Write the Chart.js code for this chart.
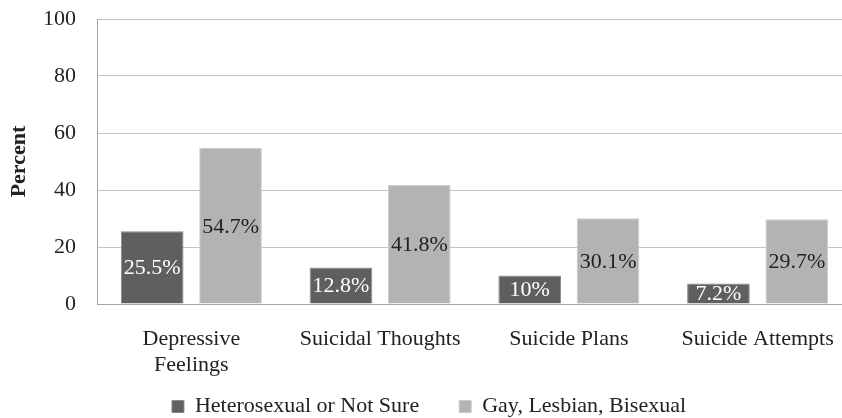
<!DOCTYPE html>
<html>
<head>
<meta charset="utf-8">
<script src="https://cdn.jsdelivr.net/npm/chart.js@4.4.1/dist/chart.umd.min.js"></script>
<style>
  html, body { margin: 0; padding: 0; background: #fff; overflow: hidden; }
  #wrap { width: 860px; height: 418px; }
</style>
</head>
<body>
<div id="wrap"><canvas id="chart"></canvas></div>
<script>
const categories = [['Depressive', 'Feelings'], 'Suicidal Thoughts', 'Suicide Plans', 'Suicide Attempts'];
const seriesNames = ['Heterosexual or Not Sure', 'Gay, Lesbian, Bisexual'];
const heteroValues = [25.5, 12.8, 10, 7.2];
const glbValues = [54.7, 41.8, 30.1, 29.7];
const yTicks = [0, 20, 40, 60, 80, 100];

const FONT = '"Liberation Serif", "Times New Roman", serif';

// writes the percentage in the middle of each bar
const barLabels = {
  id: 'barLabels',
  afterDatasetsDraw(chart) {
    const ctx = chart.ctx;
    ctx.save();
    ctx.font = '22px ' + FONT;
    ctx.textAlign = 'center';
    ctx.textBaseline = 'middle';
    chart.data.datasets.forEach((ds, i) => {
      chart.getDatasetMeta(i).data.forEach((bar, j) => {
        ctx.fillStyle = i === 0 ? '#ffffff' : '#222222';
        ctx.fillText(ds.data[j] + '%', bar.x, (bar.y + bar.base) / 2 + 1);
      });
    });
    ctx.restore();
  }
};

// pull the legend up under the axis labels (wide item spacing makes it tall)
const legendPos = {
  id: 'legendPos',
  afterLayout(chart) {
    const lg = chart.legend;
    const h = lg.height;
    lg.top = chart.chartArea.bottom + 51.5;
    lg.bottom = lg.top + h;
    lg.adjustHitBoxes && lg.adjustHitBoxes();
  }
};

new Chart(document.getElementById('chart'), {
  type: 'bar',
  data: {
    labels: categories,
    datasets: [
      { label: seriesNames[0], data: heteroValues, backgroundColor: '#5f5f5f', borderColor: '#8a8a8a', borderWidth: 1 },
      { label: seriesNames[1], data: glbValues, backgroundColor: '#b3b3b3', borderColor: '#cccccc', borderWidth: 1 }
    ]
  },
  options: {
    responsive: true,
    maintainAspectRatio: false,
    animation: false,
    layout: { padding: { top: 19, right: 8, left: 6, bottom: -47 } },
    datasets: { bar: { categoryPercentage: 0.83, barPercentage: 0.8 } },
    plugins: {
      legend: {
        position: 'bottom',
        labels: {
          font: { family: FONT, size: 22 },
          color: '#222',
          boxWidth: 12,
          boxHeight: 12,
          padding: 40
        }
      },
      tooltip: { enabled: false }
    },
    scales: {
      x: {
        grid: { display: false },
        border: { color: '#a6a6a6' },
        ticks: { font: { family: FONT, size: 22, lineHeight: 1.2 }, color: '#222', padding: 14, maxRotation: 0, autoSkip: false },
        afterFit(axis) { axis.height = 89; }
      },
      y: {
        min: 0,
        max: 100,
        afterBuildTicks(axis) { axis.ticks = yTicks.map(v => ({ value: v })); },
        grid: { color: '#c4c4c4', drawTicks: false },
        border: { color: '#a6a6a6' },
        ticks: { font: { family: FONT, size: 22 }, color: '#222', padding: 21 },
        title: { display: true, text: 'Percent', font: { family: FONT, size: 22, weight: 'bold' }, color: '#222', padding: { top: 0, bottom: 10 } },
        afterFit(axis) { axis.width = 91; axis.paddingTop = 0; axis.paddingBottom = 0; }
      }
    }
  },
  plugins: [barLabels, legendPos]
});
</script>
</body>
</html>
